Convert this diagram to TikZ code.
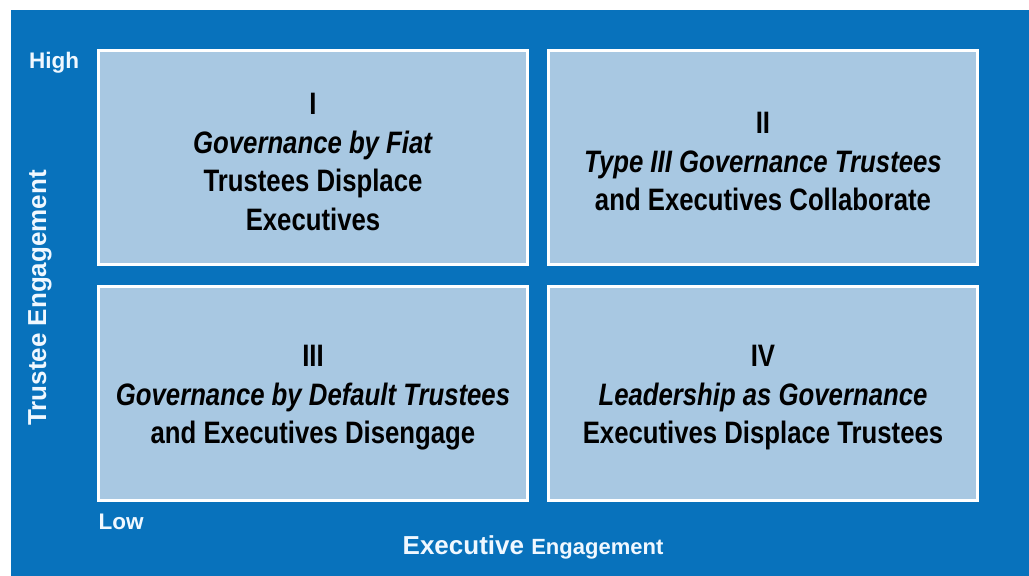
\documentclass[tikz,border=0pt]{standalone}
\usepackage{fontspec}
\setmainfont{Liberation Sans}
\newfontfamily\quadfont{Liberation Sans}[FakeStretch=0.83]
\usepackage{tikz}
\usetikzlibrary{matrix}
\definecolor{bgblue}{RGB}{8,114,188}
\definecolor{quadblue}{RGB}{168,200,226}
\definecolor{labelwhite}{RGB}{240,248,255}
\newcommand{\qtop}{\rule{0pt}{30pt}}

\begin{document}
\begin{tikzpicture}[x=1pt,y=-1pt
  ,every node/.style={font=\bfseries}
  ]
  \tikzstyle{quad}=[draw=white,line width=3pt,fill=quadblue,outer sep=0pt
  ,minimum width=428pt,minimum height=214pt,align=center
  ,font=\quadfont\bfseries\fontsize{31}{38.5}\selectfont]
  \tikzstyle{axislabel}=[text=labelwhite,inner sep=0pt]

  \useasboundingbox (0,0) rectangle (1029,576);
  \fill[bgblue] (11,10) rectangle (1029,576);

  \matrix (m) at (538,275.5) [column sep=19pt,row sep=19pt]
  {
    % top row
    \node[quad](q1) {\qtop I\\\textit{Governance by Fiat}\\Trustees Displace\\Executives}; &
    \node[quad](q2) {\qtop II\\\textit{Type III Governance Trustees}\\and Executives Collaborate}; \\
    % bottom row
    \node[quad](q3) {\qtop III\\\textit{Governance by Default Trustees}\\and Executives Disengage}; &
    \node[quad](q4) {\qtop IV\\\textit{Leadership as Governance}\\Executives Displace Trustees}; \\
  };

  \node[axislabel,font=\bfseries\fontsize{22.5}{27}\selectfont] (high) at (54,63) {High};
  \node[axislabel,font=\bfseries\fontsize{22.5}{27}\selectfont] (low) at (121,522) {Low};
  \node[axislabel,rotate=90,font=\bfseries\fontsize{26}{30}\selectfont] (trustee) at (40,298) {Trustee Engagement};
  \node[axislabel,font=\bfseries\fontsize{26}{30}\selectfont] (exec) at (533,547)
  {Executive {\fontsize{22}{26}\selectfont Engagement}};

\end{tikzpicture}
\end{document}
